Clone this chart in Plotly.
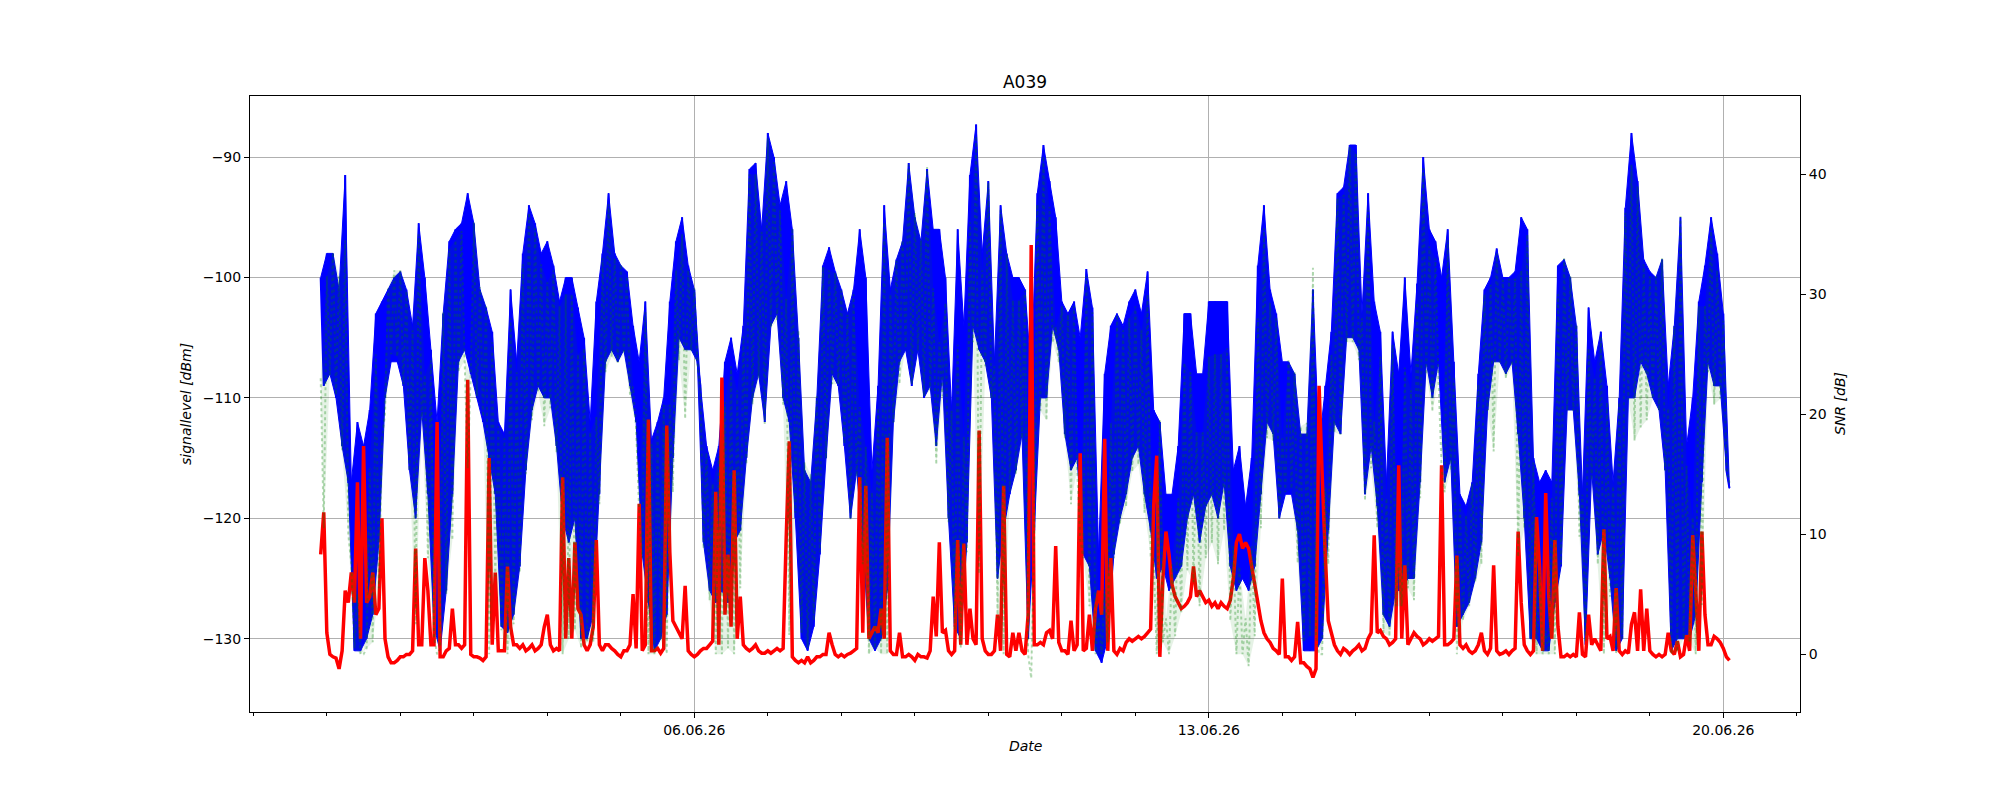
import pandas as pd
import plotly.graph_objects as go

start_time = "2026-05-31 22:00"

# signal level [dBm], hourly samples from 31.05 22:00 (alternating local max / min)
signal_dbm = [
    -100, -109,
    -98, -108, -98, -110, -101, -114, -91.5, -117, -117, -131, -112, -131, -114, -130, -111, -128, -103, -122, -102, -110, -101, -107, -100, -107,
    -99.5, -109, -101, -116, -104, -120, -95.5, -111, -100, -118, -106, -129, -112, -131, -103, -126, -97, -118, -96, -107, -95.5, -106, -93, -108,
    -95.5, -110, -101, -112, -102.5, -115, -104.5, -118, -112, -129, -113, -129.5, -101, -128, -107, -124, -98, -116, -94, -111, -95.5, -109, -98, -110,
    -97, -110, -99, -114, -102, -120, -100, -122, -100, -120, -102.5, -130, -105, -130, -112, -128, -102, -118, -98, -107, -93, -106, -98, -107,
    -99, -106, -99.5, -109, -104, -112, -107, -123, -102, -127, -113.5, -131, -112, -130, -110, -128, -102, -115, -97, -105, -95, -106, -99, -106,
    -101, -107, -109, -122, -114, -126, -116, -127, -114, -126, -107, -127, -105, -122, -108, -121, -104, -115, -91, -110, -90.5, -108, -96, -112,
    -88, -104, -90, -103, -94, -110, -92, -112, -96, -120, -105, -130, -116, -131, -117, -129, -110, -123, -99, -115, -97.5, -108, -99.5, -109,
    -101, -114, -103, -120, -101, -116, -96, -122, -100, -130, -116, -131, -109, -130, -94, -126, -101, -112, -98.5, -107, -97, -106, -90.5, -109,
    -95, -106, -97, -110, -91, -109, -96, -114, -96, -108, -100, -120, -111, -129, -96, -130, -104, -122, -91.5, -104, -87.3, -106, -98, -107,
    -92, -110, -107, -125, -94, -121, -98, -118, -100, -116, -100, -113, -101, -130, -108, -121, -93, -110, -89, -110, -92, -104, -95, -106,
    -102, -113, -103, -116, -102, -115, -105, -123, -99.3, -124, -102.5, -131, -123, -132, -108, -130, -104, -123, -103, -120, -104, -118, -102, -115,
    -101, -114, -103, -118, -99.5, -121, -111, -125, -112, -124, -118, -126, -118, -125, -114, -124, -103, -120, -103, -118, -108, -122, -108, -119,
    -102, -118, -102, -120, -102, -117, -102, -124, -116, -126, -114, -125, -119, -126, -115, -124, -99, -118, -94, -112, -101, -113, -103, -120,
    -107, -118, -107, -118, -108, -121, -113, -131, -113, -131, -101, -131, -114, -130, -109, -121, -104.5, -112, -93, -113, -92.5, -105, -89, -105,
    -89, -106, -103, -118, -93, -114, -102, -119, -104.5, -128, -117, -129, -104.5, -126, -108, -126, -100, -125, -108, -125, -100.5, -117, -90, -107,
    -96, -110, -97, -107, -100, -117, -96, -115, -107, -129, -118, -128, -119, -127, -117, -125, -108, -122, -101, -111, -100, -107, -97.6, -107,
    -100, -108, -100, -107, -99.5, -113, -95, -120, -96, -130, -115, -130, -117, -131, -116, -131, -117, -127, -99, -124, -98.5, -111, -100, -111,
    -104, -118, -118, -130.5, -102.5, -116, -107, -123, -104.5, -121, -109, -125, -117, -131, -110, -130, -94.2, -110, -88, -110, -92, -107, -98.5, -108,
    -99.5, -110, -100, -111, -98.5, -116, -109, -131, -104, -130, -95, -130, -114, -130, -110, -128, -102, -117, -99, -107, -95, -109, -98, -109,
    -103, -116, -117.5,
]

# noise level [dBm], hourly samples from 31.05 22:00
noise_dbm = [
    -123, -119.5, -129.5, -131.3, -131.5, -131.6, -132.5, -131, -126, -127,
    -124.5, -127, -117, -130, -114, -127, -126.5, -124.5, -128, -127.5,
    -120, -130, -131.5, -132, -132, -131.8, -131.5, -131.5, -131.3, -131.3,
    -131, -122.5, -130.5, -130.5, -123.3, -126, -130.5, -130.5, -112, -131.5,
    -131.5, -131, -130.8, -127.5, -130.5, -130.5, -130.8, -130.5, -108.5, -131.3,
    -131.5, -131.5, -131.6, -131.8, -131.5, -115, -130.5, -124.5, -131, -131,
    -131, -124, -129, -130.5, -130.5, -130.8, -130.5, -131, -130.8, -130.5,
    -131, -130.8, -130.5, -129, -128, -130.5, -131, -130.8,
    -131, -116.6, -130, -123.3, -130, -122, -127.5, -128, -130.5, -131,
    -130.5, -129, -121.8, -130.5, -131, -130.5, -130.5, -130.8, -131, -131.3,
    -131.5, -131, -131, -130.5, -126.3, -130.8, -118.8, -131, -130.5, -111.8,
    -131, -131, -130.8, -131.2, -130.8, -112.3, -122.8, -128.5, -129, -129.5,
    -130, -125.6, -131, -131.3, -131.5, -131.3, -131, -130.8, -130.8, -130.5,
    -130.2, -117.8, -130.5, -108.3, -128, -123, -129, -116, -130, -126.5,
    -130.5, -130.8, -131, -130.8, -130.5, -131, -131.2, -131.2, -131, -131.2,
    -131, -130.8, -131, -130.8, -121.6, -113.6, -131.5, -131.8, -132, -131.8,
    -132, -131.5,
    -132, -131.8, -131.5, -131.5, -131.3, -131.3, -129.5, -130.5, -131.3, -131.5,
    -131.3, -131.5, -131.3, -131.2, -131, -130.8, -116.6, -129.5, -117.3, -130,
    -129.5, -129, -129.5, -127.5, -130, -113.3, -131, -131.3, -131.3, -129.5,
    -131.5, -131.5, -131.3, -131.5, -131.8, -131.3, -131.5, -131.5, -131.6, -131,
    -126.5, -129.8, -122, -129.5, -129.3, -131, -131.3, -131, -121.8, -130.5,
    -122.1, -130.5, -127.5, -130, -130.5, -112.7, -130, -131, -131.3, -131.3,
    -131, -128, -131, -117.3, -131.3, -131.5, -129.5, -131, -129.5, -131,
    -131.3, -128, -97.3, -130.5, -130.5, -130.3, -130.5, -129.5, -129.3, -130,
    -122.3, -130.3,
    -131, -131, -131.3, -128.5, -131, -130.5, -114.6, -131, -130.8, -128,
    -131, -127.5, -126, -128, -113.4, -131, -123.3, -131, -131.3, -130.8,
    -131, -130.3, -130, -130.2, -130, -129.8, -130, -129.8, -129.5, -129.2,
    -118.9, -114.8, -131.5, -125, -121.1, -123, -125.5, -126.5, -127, -127.5,
    -127.3, -127, -126.5, -124, -126.5, -126, -126.5, -127, -126.8, -127.3,
    -127, -127.5, -127, -127.3, -127.5, -126.8, -125, -122, -121.3, -122.5,
    -122, -122.5, -124, -125.5, -127, -128.5, -129.5, -130, -130.3, -130.8,
    -131, -131.3, -125, -131.5, -131.5, -131.8, -131.5, -128.6, -132, -132,
    -132.3,
    -132.5, -133.2, -132.5, -109, -116.3, -122.9, -128.5, -129.5, -130.5, -131,
    -131.3, -130.8, -131, -131.3, -131, -130.8, -130.5, -131, -130.8, -130,
    -129.5, -121.4, -129.5, -129.3, -129.8, -130, -130.5, -130.3, -130, -115.6,
    -130, -123.9, -130.5, -130, -129.5, -129.8, -130, -130.5, -130.3, -130,
    -130.2, -130, -129.8, -115.6, -130.5, -130.5, -130.3, -130, -123.1, -130.5,
    -130.8, -130.5, -131, -131.2, -131, -130.5, -129.5, -131, -131.3, -130.8,
    -123.9, -131, -131.3, -131.2, -131, -131.3, -131, -130.8, -121.1, -127,
    -130.5, -131, -131.3, -131, -119.9, -124, -131, -117.9, -126.5, -130,
    -121.8, -129,
    -131.5, -131.5, -131.3, -131.5, -131.3, -131.5, -127.8, -131.3, -131.5, -128,
    -130.5, -130, -130.5, -131, -120.9, -130, -129.8, -131, -125.8, -131,
    -131.3, -131, -131.2, -128.8, -127.8, -131, -125.9, -131, -127.5, -131,
    -131.3, -131.5, -131.3, -131.5, -131.3, -129.5, -131, -131.3, -130.2, -131.5,
    -131.3, -129.7, -131, -121.4, -126, -131, -121.1, -128, -130.5, -130.5,
    -129.8, -130, -130.3, -130.8, -131.5, -131.8,
]

# SNR [dB], hourly samples from 31.05 22:00
snr_db = [
    23, 10.5, 31.5, 23.3, 33.5, 21.6, 31.5, 17, 34.5, 10,
    7.5, 0.5, 5, 0, 0, 0.5, 15.5, 1, 25, 5.5,
    18, 20, 30.5, 25, 32, 24.8, 32, 22.5, 30.3, 15.3,
    27, 2.5, 35, 19.5, 23.3, 8, 24.5, 1.5, 0, 0.5,
    28.5, 5, 33.8, 9.5, 34.5, 23.5, 35.3, 24.5, 15.5, 23.3,
    36, 21.5, 30.6, 19.8, 29, 0, 26, 6.5, 19, 2,
    18, 0, 28, 2.5, 23.5, 6.8, 32.5, 15, 36.8, 19.5,
    35.5, 21.8, 32.5, 19, 31, 20.5, 32, 16.8, 29, 0,
    30, 1.3, 30, 2, 25, 0.5, 25.5, 1, 18.5, 1,
    19.8, 12.5, 33, 23.5, 37.5, 24.8, 33, 24.3, 32.5, 25,
    31.5, 21.5, 22.3, 18.8, 11.8, 8, 28.5, 0, 17.5, 0,
    18.8, 1.2, 20.8, 0, 20.8, 13.5, 32, 24.5, 35, 19.6,
    32, 25.3, 30.5, 24.3, 22, 8.8, 16.8, 4.5, 14.2, 0,
    16.5, 0, 21, 0.5, 24, 0, 22, 5.5, 26.5, 15.8,
    40, 20.8, 40, 23, 35.2, 19.2, 43, 27.2, 41, 27.8,
    37, 20.8, 29.6, 1.6, 35.5, 11.8, 27, 1.8, 16, 0.5,
    15, 2.8, 21.5, 8.5, 32.3, 16.3, 32, 22.5, 31.8, 22.5,
    30.3, 17.5, 28.3, 11.2, 30, 14.8, 20.6, 7.5, 17.3, 0,
    13.5, 0.5, 20.5, 0, 36, 0, 30, 19.3, 32.8, 22.5,
    34.5, 25.5, 40.8, 22.5, 36.8, 25.3, 34.5, 21.5, 40.6, 22,
    30.5, 15.8, 26, 21.5, 29.3, 11, 20.3, 2, 25.8, 0.5,
    18.1, 8.5, 36, 26, 43.2, 6.7, 32, 24, 39.3, 21.3,
    24, 3, 37, 0, 33.3, 13.5, 29.5, 15, 29.5, 18,
    30.3, 0, -2, 9.5, 37.5, 20.3, 41.5, 19.5, 37.3, 26,
    27.3, 24.3, 29, 18, 28.3, 12.5, 29, 15.5, 9.6, 8,
    31.5, 4, 28.5, 0, 3, 0, 5.4, 1, 19.3, 8,
    28.3, 10.8, 27, 12.3, 28, 15.2, 29, 15.8, 27, 11.8,
    30, 8.2, 7.9, 0, 19.5, 1, 3, 0, 7.5, 1.5,
    13, 3.5, 24.3, 7, 23.5, 6, 18.5, 4, 18.5, 8,
    24.8, 9.3, 25, 7.5, 25, 10.3, 25.5, 2.8, 9, 0,
    7.3, 0, 3, -1, 9, 1.5, 28, 10.5, 35.5, 18,
    29.3, 17.8, 28, 11.3, 18, 13.5, 24.5, 13.8, 23.5, 7.6,
    19, 1, 19.3, 1.5, 32.2, 1.5, 0, 0, 13.9, 7.5,
    25, 18.5, 38, 18.3, 38.3, 26, 42.3, 26, 41.8, 24.5,
    28, 12.8, 37, 15.5, 19.4, 10.5, 24.8, 1.8, 13, 1.5,
    25.8, 4, 7.6, 4, 23.9, 5.5, 22, 4.5, 29.3, 13,
    40.5, 23.3, 34, 20.2, 33, 22.8, 15.6, 13.5, 34.5, 15.3,
    23, 0, 12.5, 2.8, 11.5, 4, 14.2, 6, 22.5, 7.5,
    30, 20.3, 30.8, 16.9, 33.4, 24.3, 31.2, 23, 31.3, 24,
    31.3, 8.1, 32, 10.5, 35, 1.3, 16, 0, 7, 0,
    1.9, 0, 13, 0, 30, 7.5, 33, 20.3, 31.5, 20.3,
    27.5, 9.8, 13.3, 1, 25.5, 14.5, 23, 7.5, 26.5, 0,
    21, 4.8, 14, 0, 21, 1.3, 36.8, 21.2, 40.8, 17.8,
    39, 18.9, 32.5, 19.5, 31.5, 21.3, 31.5, 20.3, 33, 15.3,
    20.5, 0, 27.3, 0.2, 36.5, 1.3, 15.7, 1, 11.4, 0,
    29, 4.1, 29, 23.5, 35.5, 20.8, 32, 21.3, 27.8, 15.5,
    14.3,
]

major_tick_start = "2026-06-06"
x_range = ["2026-05-30 22:55", "2026-06-21 01:02"]
left_range = [-136.08, -84.93]
right_range = [-4.81, 46.52]


def times(series):
    return list(pd.date_range(start_time, periods=len(series), freq="h"))


def band(series):
    """Closed outline: the local maxima (even samples) forward, the minima (odd samples) back."""
    t = times(series)
    hi_t, hi_v = t[0::2], series[0::2]
    lo_t, lo_v = t[1::2], series[1::2]
    return hi_t + lo_t[::-1], list(hi_v) + list(lo_v)[::-1]


fig = go.Figure()

# signal level: band of fast fluctuation + the line itself
bx, by = band(signal_dbm)
fig.add_trace(go.Scatter(x=bx, y=by, mode="lines", fill="toself", fillcolor="#0000ff",
                         line=dict(color="#0000ff", width=1), hoverinfo="skip", yaxis="y"))
fig.add_trace(go.Scatter(x=times(signal_dbm), y=signal_dbm, mode="lines",
                         line=dict(color="#0000ff", width=2, simplify=False),
                         name="signal level", yaxis="y"))

# noise level
fig.add_trace(go.Scatter(x=times(noise_dbm), y=noise_dbm, mode="lines",
                         line=dict(color="#ff0000", width=3.5, simplify=False),
                         name="noise level", yaxis="y"))

# SNR (dotted, translucent, drawn on the twin axis on top)
gx, gy = band(snr_db)
fig.add_trace(go.Scatter(x=gx, y=gy, mode="lines", fill="toself", fillcolor="rgba(0,128,0,0.1)",
                         line=dict(width=0, color="rgba(0,0,0,0)"), hoverinfo="skip", yaxis="y2"))
fig.add_trace(go.Scatter(x=times(snr_db), y=snr_db, mode="lines",
                         line=dict(color="rgba(0,128,0,0.3)", width=2, dash="dot", simplify=False),
                         name="SNR", yaxis="y2"))

axis_common = dict(ticks="outside", ticklen=5, tickwidth=1, tickcolor="black",
                   showline=True, linecolor="black", linewidth=1, zeroline=False,
                   tickfont=dict(family="DejaVu Sans", size=14, color="black"))

fig.update_layout(
    width=2000, height=800, autosize=False,
    margin=dict(l=250, r=200, t=96, b=88, pad=0),
    paper_bgcolor="white", plot_bgcolor="white",
    showlegend=False,
    font=dict(family="DejaVu Sans", size=14, color="black"),
    title=dict(text="A039", x=0.5, xref="paper", xanchor="center",
               y=1 - 82 / 800, yref="container", yanchor="middle",
               font=dict(family="DejaVu Sans", size=17, color="black")),
    xaxis=dict(type="date", range=x_range, tick0=major_tick_start, dtick=7 * 86400000,
               tickformat="%d.%m.%y", mirror=True, showgrid=True, gridcolor="#b0b0b0", gridwidth=1,
               minor=dict(tick0=major_tick_start, dtick=86400000, ticks="outside", ticklen=3,
                          tickwidth=1, tickcolor="black", showgrid=False),
               **axis_common),
    yaxis=dict(range=left_range, tick0=-130, dtick=10, mirror=True, showgrid=True,
               gridcolor="#b0b0b0", gridwidth=1, **axis_common),
    yaxis2=dict(range=right_range, tick0=0, dtick=10, overlaying="y", side="right",
                showgrid=False, **axis_common),
    annotations=[
        dict(text="<i>signallevel [dBm]</i>", xref="paper", yref="paper", x=0, y=0.5,
             xshift=-64, textangle=-90, showarrow=False, xanchor="center", yanchor="middle",
             font=dict(family="DejaVu Sans", size=14, color="black")),
        dict(text="<i>SNR [dB]</i>", xref="paper", yref="paper", x=1, y=0.5,
             xshift=40, textangle=-90, showarrow=False, xanchor="center", yanchor="middle",
             font=dict(family="DejaVu Sans", size=14, color="black")),
        dict(text="<i>Date</i>", xref="paper", yref="paper", x=0.5, y=0,
             yshift=-34, showarrow=False, xanchor="center", yanchor="middle",
             font=dict(family="DejaVu Sans", size=14, color="black")),
    ],
)

fig.write_html("out.html")
